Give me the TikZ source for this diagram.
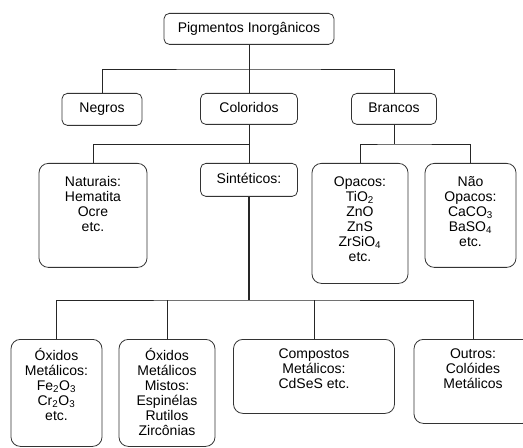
\documentclass[tikz,border=0pt]{standalone}
\usepackage{fontspec}
\setmainfont{Liberation Sans}
\usepackage{tikz}
\tikzset{
    block/.style={rectangle,draw=black!80,line width=0.6pt,rounded corners=4pt,inner sep=0pt,anchor=north,font=\fontsize{10.5}{11.25}\selectfont},
    tall/.style={block,rounded corners=7pt},
    link/.style={draw=black!85,line width=0.6pt},
}
\newcommand{\inbox}[4]{\parbox[c][#2][t]{#1}{\centering\vspace*{#3}#4\par}}

\begin{document}
\begin{tikzpicture}[x=0.75pt,y=-0.75pt]
\useasboundingbox (0,0) rectangle (523,448);
\clip (0,0) rectangle (523,448);
% first level
\node[block](pig) at (249,13) {\inbox{127.5pt}{23.25pt}{6.75pt}{Pigmentos Inorgânicos}};
% second level
\node[block](neg) at (102,93) {\inbox{60pt}{24pt}{6.75pt}{Negros}};
\node[block](col) at (249,93) {\inbox{72.75pt}{23.25pt}{6.75pt}{Coloridos}};
\node[block](bra) at (394,93) {\inbox{63.75pt}{23.25pt}{6.75pt}{Brancos}};
% third level
\node[tall](nat) at (93,163) {\inbox{81pt}{78pt}{9.75pt}{Naturais:\\Hematita\\Ocre\\etc.}};
\node[block](sin) at (249,163) {\inbox{72.75pt}{24.75pt}{7.5pt}{Sintéticos:}};
\node[tall](opa) at (360,163) {\inbox{72pt}{90pt}{9.75pt}{Opacos:\\TiO\textsubscript{2}\\ZnO\\ZnS\\ZrSiO\textsubscript{4}\\etc.}};
\node[tall](nop) at (470.5,163) {\inbox{68.25pt}{78pt}{9.75pt}{Não\\Opacos:\\CaCO\textsubscript{3}\\BaSO\textsubscript{4}\\etc.}};
% fourth level
\node[tall](oxm) at (56.5,339) {\inbox{68.25pt}{80.25pt}{6.75pt}{Óxidos\\Metálicos:\\Fe\textsubscript{2}O\textsubscript{3}\\Cr\textsubscript{2}O\textsubscript{3}\\etc.}};
\node[tall](oxi) at (167,339) {\inbox{72pt}{80.25pt}{6.75pt}{Óxidos\\Metálicos\\Mistos:\\Espinélas\\Rutilos\\Zircônias}};
\node[tall](cmp) at (314,339) {\inbox{120.75pt}{55.5pt}{6.75pt}{Compostos\\Metálicos:\\CdSeS etc.}};
\node[tall](out) at (473,339) {\inbox{88.5pt}{63pt}{6.75pt}{Outros:\\Colóides\\Metálicos}};
% junctions
\coordinate (j1) at (249,69);
\coordinate (j2) at (249,144);
\coordinate (j3) at (394,144);
\coordinate (j4) at (249,300);
\draw[link] (pig) -- (j1);
\draw[link] (neg) |- (j1) -| (bra);
\draw[link] (col) -- (j1);
\draw[link] (nat) |- (j2);
\draw[link] (col) -- (sin);
\draw[link] (opa) |- (j3) -| (nop);
\draw[link] (bra) -- (j3);
\draw[link,line width=1pt] (sin) -- (j4);
\draw[link] (oxm) |- (j4) -| (out);
\draw[link] (oxi) -- (oxi |- j4);
\draw[link] (cmp) -- (cmp |- j4);
\end{tikzpicture}
\end{document}
